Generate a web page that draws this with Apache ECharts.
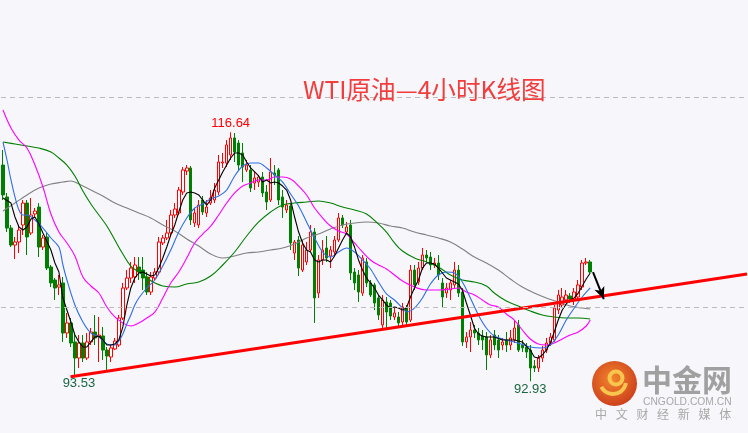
<!DOCTYPE html>
<html><head><meta charset="utf-8">
<script src="https://cdn.jsdelivr.net/npm/echarts@6/dist/echarts.min.js"></script>
<style>html,body{margin:0;padding:0;background:#f6f6fb;}#c{width:748px;height:433px;}</style>
</head><body><div id="c"></div>
<script>
// [open, close, low, high]
const kData = [
[113.52,110.67,110.19,114.95],[110.48,107.52,107.14,110.86],[107.52,105.90,105.71,107.81],[105.90,106.19,104.57,106.67],[106.19,107.33,105.14,107.81],
[107.81,109.90,106.86,110.19],[109.90,106.67,104.95,110.19],[107.05,108.76,106.86,110.38],[108.86,109.14,108.48,109.43],[109.52,105.71,104.76,109.90],
[105.71,106.57,105.43,106.86],[106.67,103.71,103.52,107.05],[103.81,102.29,101.90,104.00],[102.57,101.81,100.67,102.76],[101.90,102.10,101.14,103.05],
[102.29,97.52,96.67,102.86],[97.52,98.48,97.05,99.43],[98.48,96.57,96.19,98.95],[96.67,95.14,93.53,97.52],[95.14,96.57,94.19,97.33],
[96.57,95.14,94.76,97.33],[95.14,96.67,94.95,97.52],[96.67,97.62,96.38,98.00],[97.62,97.05,96.38,99.24],[97.14,97.33,94.76,99.05],
[97.24,95.90,94.95,98.10],[95.90,95.33,94.00,96.19],[95.24,96.10,94.76,96.38],[96.00,96.76,95.90,97.05],[96.38,98.95,96.19,99.24],
[98.95,101.81,98.76,102.29],[101.81,102.76,101.62,103.52],[102.76,103.71,102.29,104.29],[102.86,104.00,102.29,104.76],[103.81,103.33,102.57,104.76],
[103.52,102.76,101.62,104.76],[102.86,101.43,101.14,103.33],[101.43,102.86,101.14,103.33],[102.76,103.33,102.57,103.71],[103.33,106.19,103.05,106.67],
[106.10,106.57,105.90,106.86],[106.57,107.05,106.38,108.29],[107.05,108.76,106.86,109.24],[108.76,109.33,108.48,109.90],[108.95,111.14,108.76,111.43],
[110.95,113.05,110.67,113.33],[112.95,113.24,112.57,113.52],[113.24,108.29,107.81,113.43],[108.00,108.95,107.62,109.43],[107.81,109.71,107.52,110.19],
[110.19,109.05,108.76,110.57],[108.95,109.52,108.57,110.19],[109.90,110.38,109.71,111.14],[110.19,111.14,109.90,111.81],[110.95,113.81,110.67,114.48],
[113.71,113.81,113.24,114.67],[113.71,115.43,113.33,115.90],[114.48,116.10,114.00,116.64],[116.10,114.76,113.81,116.57],[115.62,113.52,113.05,115.90],
[114.67,113.33,111.90,115.62],[113.05,113.52,112.86,114.00],[113.05,111.33,110.95,113.52],[111.81,112.29,111.14,112.86],[111.90,112.38,111.43,112.57],
[112.38,110.86,110.48,112.86],[110.95,110.00,109.24,111.62],[110.19,112.86,110.00,114.19],[112.76,112.57,111.62,113.52],[113.05,110.19,109.71,113.24],
[110.48,109.52,108.48,111.14],[109.24,109.71,108.95,110.19],[109.62,106.10,105.43,109.90],[105.14,106.19,104.48,106.38],[106.38,103.71,102.95,106.76],
[103.52,105.90,103.33,106.38],[104.29,105.43,104.00,106.19],[105.43,107.14,105.24,107.81],[107.14,100.86,98.48,107.52],[101.33,104.48,100.86,104.95],
[104.48,105.43,104.00,106.38],[105.62,104.67,104.29,106.76],[104.86,105.43,103.71,105.81],[105.24,106.38,104.86,106.76],[106.38,108.48,106.19,108.95],
[108.48,107.81,107.52,108.76],[107.14,107.62,106.86,108.10],[107.81,103.24,102.57,108.29],[103.33,102.29,101.62,103.71],[103.05,101.43,100.48,103.52],
[101.33,104.67,101.05,104.95],[104.29,102.29,101.90,104.67],[102.29,101.14,100.95,102.57],[102.10,100.38,99.71,102.29],[100.86,99.24,98.76,101.14],
[98.29,100.67,97.81,101.14],[100.48,99.52,98.00,100.95],[100.38,99.14,98.76,100.67],[99.05,99.43,98.76,99.90],[99.05,98.48,98.19,99.52],
[98.57,100.00,98.29,100.38],[99.90,98.57,98.29,100.19],[98.76,103.52,98.57,104.00],[103.52,102.10,101.62,104.00],[102.38,103.71,102.10,104.29],
[103.71,104.95,103.52,105.62],[104.95,104.67,104.29,105.43],[104.76,104.00,103.52,105.24],[104.00,104.19,103.71,104.67],[104.19,103.05,102.57,104.95],
[102.29,100.95,99.90,102.76],[101.33,101.81,100.86,102.29],[101.62,102.29,100.67,102.57],[102.10,103.52,101.81,104.29],[103.52,101.33,100.95,104.00],
[101.43,96.67,96.29,101.81],[96.67,97.14,96.10,97.62],[97.14,97.81,95.71,98.57],[97.81,97.52,97.05,98.29],[97.52,96.86,96.38,98.00],
[97.24,96.86,95.90,97.81],[97.14,95.43,94.00,97.62],[95.43,96.86,95.14,97.33],[97.33,96.38,95.90,97.81],[96.86,95.90,95.14,97.33],
[96.38,96.67,95.90,97.05],[96.86,96.38,95.71,97.62],[96.38,97.05,95.90,97.81],[96.86,98.00,96.57,98.76],[98.29,95.90,95.71,98.76],
[96.38,96.10,95.71,96.86],[96.19,95.71,95.14,96.57],[95.90,94.19,92.93,96.38],[94.38,94.19,93.81,94.95],[94.19,95.14,93.81,95.43],
[95.14,95.90,94.76,96.29],[95.90,96.57,95.62,97.05],[96.57,97.14,96.29,97.52],[96.86,99.90,96.67,100.19],[99.71,101.14,99.33,101.62],
[100.19,100.95,99.90,101.81],[100.67,101.14,100.48,101.62],[101.05,100.76,100.38,101.33],[100.67,101.43,100.19,101.81],[100.95,102.10,100.67,102.57],
[101.90,104.19,101.62,104.48],[104.19,104.29,104.00,104.67],[104.29,103.33,103.24,104.48]
];

// moving-average lines: [candle index, price]
const ma5 = [[0,110.38],[2,109.90],[3,108.57],[4,107.62],[5,107.33],[6,107.62],[7,108.38],[8,108.57],[9,107.90],[10,107.05],[12,105.43],[13,104.19],[14,103.33],[15,100.86],[17,98.57],[18,97.33],[19,96.67],[20,96.19],[21,96.19],[22,96.67],[23,97.14],[24,97.24],[25,96.86],[26,96.38],[27,96.38],[28,96.48],[29,96.86],[30,98.10],[31,100.19],[32,101.81],[33,102.76],[34,103.24],[35,103.33],[36,103.14],[37,102.95],[38,103.05],[39,103.71],[40,104.67],[41,105.71],[42,106.86],[43,107.81],[44,109.05],[45,110.19],[46,110.86],[47,110.95],[48,110.86],[49,110.67],[50,110.19],[51,109.71],[52,110.19],[53,111.33],[54,112.10],[55,112.86],[56,113.52],[57,114.19],[58,114.67],[59,114.67],[60,114.48],[61,113.81],[62,113.24],[63,112.86],[64,112.48],[65,111.90],[66,112.10],[67,111.81],[68,111.90],[69,111.81],[70,111.52],[71,111.14],[72,110.19],[73,108.57],[74,107.14],[75,106.10],[76,105.43],[77,105.24],[78,104.48],[79,104.29],[80,104.48],[81,104.48],[82,104.29],[83,104.86],[84,105.62],[85,106.38],[86,107.05],[87,106.67],[88,105.71],[89,104.48],[90,103.52],[91,102.76],[92,102.29],[93,101.81],[94,101.14],[95,100.67],[96,100.19],[97,99.90],[98,100.00],[99,99.90],[100,99.71],[101,99.90],[102,100.95],[103,101.81],[104,102.57],[105,103.71],[106,104.19],[107,104.19],[108,104.10],[109,103.71],[110,103.24],[111,102.76],[112,102.57],[113,102.38],[114,102.19],[115,101.62],[116,100.38],[117,99.24],[118,98.00],[119,97.43],[120,97.24],[121,97.14],[122,97.14],[123,97.14],[125,96.86],[128,96.86],[130,96.67],[132,95.90],[133,95.24],[134,95.14],[135,95.43],[136,95.90],[137,96.57],[138,97.62],[139,98.76],[140,99.71],[141,100.29],[142,100.67],[143,100.86],[144,101.33],[145,102.00],[146,102.67],[147,103.24]];
const ma10 = [[0,115.71],[1,114.00],[2,112.10],[3,110.48],[4,109.24],[5,108.76],[6,108.76],[8,108.29],[10,107.52],[12,106.57],[14,105.71],[15,104.00],[16,102.57],[18,100.19],[20,98.57],[22,97.52],[24,97.14],[26,96.48],[28,96.38],[29,96.76],[30,97.43],[31,98.38],[32,99.24],[33,100.19],[34,100.86],[36,101.81],[38,102.57],[40,103.90],[42,105.43],[44,107.14],[46,108.48],[48,109.43],[50,109.81],[52,110.29],[54,110.57],[56,111.14],[58,112.48],[60,113.43],[62,113.71],[64,113.71],[66,113.24],[68,112.57],[70,111.90],[72,110.76],[74,109.62],[76,108.10],[78,106.57],[80,105.24],[82,104.76],[84,105.24],[86,105.62],[88,105.24],[90,104.48],[92,103.62],[94,102.38],[96,101.24],[98,100.67],[100,99.90],[101,99.52],[103,99.90],[105,100.86],[107,102.19],[109,103.05],[111,103.33],[113,103.24],[115,102.38],[117,100.86],[119,99.24],[121,98.00],[123,97.24],[126,96.86],[129,96.57],[132,96.19],[135,96.10],[137,96.38],[139,97.33],[141,98.76],[143,99.90],[145,100.95],[147,101.81]];
const ma20 = [[0,118.76],[2,117.05],[4,115.90],[6,115.14],[8,113.52],[10,111.43],[12,108.86],[14,107.14],[16,106.10],[18,104.86],[20,102.86],[22,102.00],[24,101.33],[26,100.00],[28,99.05],[30,98.48],[32,98.19],[34,98.48],[36,98.95],[38,99.52],[40,100.86],[42,102.29],[44,103.33],[46,104.67],[48,106.10],[50,106.95],[52,107.71],[54,108.76],[56,109.90],[58,110.86],[60,111.52],[62,111.81],[64,112.10],[66,112.10],[68,112.38],[70,112.38],[72,112.19],[74,111.52],[76,110.67],[78,109.43],[80,108.48],[82,107.71],[84,107.24],[86,106.95],[88,106.10],[90,105.24],[92,104.48],[94,104.00],[96,103.62],[98,103.05],[100,102.48],[103,101.90],[106,101.62],[109,101.62],[112,101.71],[114,101.81],[116,101.43],[118,101.14],[120,100.67],[122,100.19],[124,100.00],[126,99.33],[128,98.76],[130,97.81],[132,96.95],[134,96.48],[136,96.38],[138,96.57],[140,96.95],[142,97.33],[144,97.62],[146,98.19],[147,98.76]];
const ma60 = [[0,115.71],[3,115.52],[6,115.33],[9,115.14],[12,114.76],[14,114.19],[16,113.52],[18,112.48],[20,111.05],[22,109.81],[24,108.76],[26,107.71],[28,106.38],[30,105.05],[32,103.90],[34,103.33],[36,102.76],[38,102.29],[40,102.00],[43,101.90],[46,102.19],[49,102.38],[52,102.95],[55,104.00],[58,105.24],[61,106.76],[64,108.10],[67,109.05],[70,109.71],[73,109.90],[76,110.00],[79,110.10],[82,109.90],[85,109.52],[88,109.24],[91,108.86],[94,107.90],[96,107.14],[98,106.10],[100,105.33],[103,104.67],[106,104.29],[109,103.81],[112,103.05],[115,102.57],[118,102.38],[121,102.00],[123,101.33],[126,100.57],[129,100.10],[132,99.62],[135,99.24],[138,99.05],[141,98.95],[144,98.95],[147,98.86]];
const ma120 = [[0,109.14],[3,109.90],[6,110.67],[9,111.33],[12,111.71],[15,111.90],[17,112.00],[19,111.71],[22,111.14],[25,110.57],[28,109.90],[31,109.43],[34,108.95],[37,108.48],[40,107.81],[43,107.24],[46,106.48],[49,105.81],[52,105.05],[55,104.67],[58,104.86],[61,105.14],[64,105.24],[67,105.43],[70,105.62],[73,106.00],[76,106.57],[79,106.95],[82,107.43],[85,107.81],[88,108.00],[91,108.10],[94,108.00],[97,107.71],[100,107.52],[103,107.14],[106,106.86],[109,106.57],[112,106.19],[115,105.52],[118,104.76],[121,104.19],[124,103.52],[127,102.67],[130,101.90],[133,101.33],[136,100.86],[139,100.48],[142,100.10],[145,99.90],[147,99.81]];

const trendLine = [[16.9, 93.36], [186.25, 103.14]];
const arrowFrom = [147.7, 103.33];
const arrowTo = [150.4, 100.76];
const refLevels = [100, 120];
const highMark = [57, 116.64];
const lowMarks = [[19, 93.53], [132, 92.93]];
const SLOTS = 187;
const categories = Array.from({length: SLOTS}, (_, i) => 'K' + (i + 1));
const footerChars = ['中','文','财','经','新','媒','体'];

const chart = echarts.init(document.getElementById('c'), null, {renderer: 'canvas'});
const lineS = (data, color, smooth) => ({
  type: 'line', xAxisIndex: 1, data: data, showSymbol: false, symbol: 'none', smooth: smooth,
  lineStyle: {color: color, width: 1.1}, silent: true, z: 3
});

const graphics = [
  {type: 'text', x: 303, y: 90, style: {text: 'WTI原油—4小时K线图', fill: '#f23d3d', font: '24.6px "Noto Sans CJK SC"', align: 'left', verticalAlign: 'middle'}, z: 10},
  {type: 'circle', shape: {cx: 614.5, cy: 383.5, r: 22.5}, style: {fill: new echarts.graphic.RadialGradient(0.45, 0.4, 0.75, [{offset: 0, color: '#f2862c'}, {offset: 1, color: '#c5301a'}])}, z: 10},
  {type: 'arc', shape: {cx: 616, cy: 378, r: 6.5, startAngle: 0, endAngle: Math.PI * 2}, style: {stroke: '#f8c64e', lineWidth: 4, fill: null}, z: 11},
  {type: 'arc', shape: {cx: 613, cy: 381, r: 13, startAngle: Math.PI * 0.05, endAngle: Math.PI * 0.85, clockwise: true}, style: {stroke: '#f8c64e', lineWidth: 4, fill: null}, z: 11},
  {type: 'text', x: 642, y: 380, style: {text: '中金网', fill: '#a0a0a0', font: 'bold 30px "Noto Sans CJK SC"', align: 'left', verticalAlign: 'middle'}, z: 10},
  {type: 'text', x: 643, y: 402, style: {text: 'CNGOLD.COM.CN', fill: '#a8a8a8', font: '10.3px "Liberation Sans"', align: 'left', verticalAlign: 'middle'}, z: 10}
];
footerChars.forEach((ch, k) => graphics.push({type: 'text', x: 601 + 20.7 * k, y: 414.5, style: {text: ch, fill: '#a8a8a8', font: '12px "Noto Sans CJK SC"', align: 'center', verticalAlign: 'middle'}, z: 10}));

chart.setOption({
  backgroundColor: '#f6f6fb',
  animation: false,
  grid: {left: 1, top: 0, width: 748, height: 433},
  xAxis: [
    {type: 'category', data: categories, show: false, boundaryGap: true},
    {type: 'value', min: -0.5, max: SLOTS - 0.5, show: false}
  ],
  yAxis: {type: 'value', min: 88, max: 129.238, show: false, splitLine: {show: false}},
  series: [
    {
      type: 'candlestick', data: kData, barWidth: 3,
      itemStyle: {color: 'rgba(0,0,0,0)', color0: '#008000', borderColor: '#ff0000', borderColor0: '#008000', borderWidth: 1},
      markLine: {
        silent: true, symbol: ['none', 'none'], label: {show: false},
        lineStyle: {color: '#bcbcbc', type: [5, 4], width: 1},
        data: refLevels.map(v => ({yAxis: v}))
      },
      markPoint: {
        silent: true, symbol: 'circle', symbolSize: 1, itemStyle: {color: 'rgba(0,0,0,0)'},
        data: [
          {coord: highMark, label: {show: true, formatter: highMark[1].toFixed(2), position: 'inside', offset: [0, -9], color: '#ff0000', fontSize: 13, fontFamily: 'Liberation Sans'}},
          ...lowMarks.map(m => ({coord: m, label: {show: true, formatter: m[1].toFixed(2), position: 'inside', offset: [0, 8], color: '#1a6640', fontSize: 13, fontFamily: 'Liberation Sans'}}))
        ]
      }
    },
    lineS(ma120, '#808080', 0.4),
    lineS(ma60, '#008000', 0.4),
    lineS(ma20, '#ff00ff', 0.4),
    lineS(ma10, '#2f6ee6', 0.3),
    lineS(ma5, '#000000', false),
    {
      type: 'line', xAxisIndex: 1, data: trendLine, showSymbol: false, symbol: 'none',
      lineStyle: {color: '#ff0000', width: 3}, silent: true, z: 4,
      markLine: {
        silent: true, symbol: ['none', 'arrow'], symbolSize: [8, 12], label: {show: false},
        lineStyle: {color: '#000000', width: 2, type: 'solid'},
        data: [[{coord: arrowFrom}, {coord: arrowTo}]]
      }
    }
  ],
  graphic: graphics
});
</script>
</body></html>
